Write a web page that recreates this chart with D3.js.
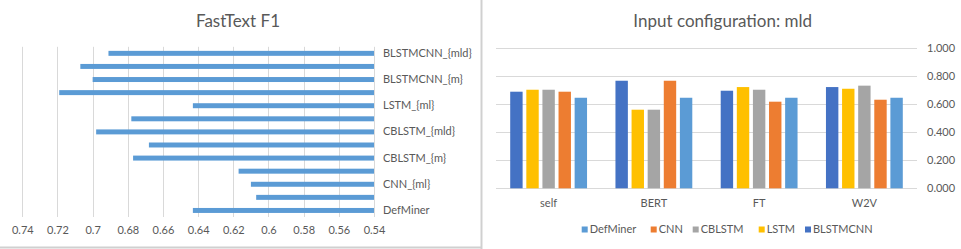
<!DOCTYPE html>
<html>
<head>
<meta charset="utf-8">
<script src="https://cdn.jsdelivr.net/npm/d3@7"></script>
<style>
  body { margin: 0; background: #fff; }
  svg { font-family: Lato, "Noto Sans", sans-serif; }
</style>
</head>
<body>
<svg id="canvas"></svg>
<script>
// left chart: FastText F1, bottom to top
let models = ["DefMiner", "CNN_{m}", "CNN_{ml}", "CNN_{mld}", "CBLSTM_{m}", "CBLSTM_{ml}", "CBLSTM_{mld}",
  "LSTM_{m}", "LSTM_{ml}", "LSTM_{mld}", "BLSTMCNN_{m}", "BLSTMCNN_{ml}", "BLSTMCNN_{mld}"]
let f1 = [0.643, 0.607, 0.610, 0.617, 0.677, 0.668, 0.698, 0.678, 0.643, 0.719, 0.700, 0.707, 0.691]
let f1Ticks = [0.74, 0.72, 0.7, 0.68, 0.66, 0.64, 0.62, 0.6, 0.58, 0.56, 0.54]

// right chart: input configuration mld
let inputs = ["self", "BERT", "FT", "W2V"]
let series = ["BLSTMCNN", "LSTM", "CBLSTM", "CNN", "DefMiner"]
let legendOrder = ["DefMiner", "CNN", "CBLSTM", "LSTM", "BLSTMCNN"]
let BLSTMCNN = [0.687, 0.765, 0.694, 0.720]
let LSTM = [0.701, 0.559, 0.720, 0.708]
let CBLSTM = [0.701, 0.559, 0.701, 0.730]
let CNN = [0.687, 0.765, 0.616, 0.630]
let DefMiner = [0.644, 0.644, 0.644, 0.644]
let yTicks = [0, 0.2, 0.4, 0.6, 0.8, 1.0]

let colors = {BLSTMCNN: "#4472C4", LSTM: "#FFC000", CBLSTM: "#A5A5A5", CNN: "#ED7D31", DefMiner: "#5B9BD5"}
let seriesValues = {BLSTMCNN, LSTM, CBLSTM, CNN, DefMiner}

let width = 961
let height = 249
let textColor = "#595959"
let gridColor = "#d9d9d9"

let svg = d3.select("#canvas")
svg.attr("width", width)
svg.attr("height", height)

// frames
svg.append("line")
  .attr("x1", 481.5).attr("x2", 481.5).attr("y1", 0).attr("y2", height)
  .attr("stroke", "#d0d0d0").attr("stroke-width", 2)
svg.append("line")
  .attr("x1", 0).attr("x2", 482).attr("y1", 247.5).attr("y2", 247.5)
  .attr("stroke", "#d0d0d0").attr("stroke-width", 2)

// ---------- left chart ----------
let xScale = d3.scaleLinear()
  .domain([0.74, 0.54])
  .range([22.3, 374])

let yBand = d3.scaleBand()
  .domain(models.slice().reverse())
  .range([46.8, 217])
  .paddingInner(0.62)
  .paddingOuter(0.31)

let left = svg.append("g")

left.selectAll(".grid")
  .data(f1Ticks)
  .enter()
  .append("line")
  .attr("class", "grid")
  .attr("x1", d => Math.round(xScale(d)) + 0.5)
  .attr("x2", d => Math.round(xScale(d)) + 0.5)
  .attr("y1", 46.8)
  .attr("y2", 217)
  .attr("stroke", gridColor)

left.selectAll(".bar")
  .data(models)
  .enter()
  .append("rect")
  .attr("class", "bar")
  .attr("x", (d, i) => xScale(f1[i]))
  .attr("y", d => yBand(d))
  .attr("width", (d, i) => xScale(0.54) - xScale(f1[i]))
  .attr("height", yBand.bandwidth())
  .attr("fill", "#5B9BD5")

let xAxis = d3.axisBottom(xScale)
  .tickValues(f1Ticks)
  .tickFormat(d => String(d))
  .tickSize(0)
  .tickPadding(9)

left.append("g")
  .attr("transform", "translate(0,217)")
  .call(xAxis)
  .call(g => g.select(".domain").remove())
  .selectAll("text")
  .attr("fill", textColor)
  .attr("font-size", 11)
  .attr("font-family", "Lato, sans-serif")

let yAxis = d3.axisRight(yBand)
  .tickValues(models.filter((d, i) => i % 2 == 0))
  .tickSize(0)
  .tickPadding(9)

left.append("g")
  .attr("transform", "translate(374,0)")
  .call(yAxis)
  .call(g => g.select(".domain").remove())
  .selectAll("text")
  .attr("fill", textColor)
  .attr("font-size", 11)
  .attr("font-family", "Lato, sans-serif")

left.append("text")
  .attr("x", 238)
  .attr("y", 27)
  .attr("text-anchor", "middle")
  .attr("fill", textColor)
  .attr("font-size", 17)
  .text("FastText F1")

// ---------- right chart ----------
let x0 = d3.scaleBand()
  .domain(inputs)
  .range([496, 917])
  .paddingInner(0.27)
  .paddingOuter(0.135)

let x1 = d3.scaleBand()
  .domain(series)
  .range([0, x0.bandwidth()])
  .paddingInner(0.23)

let y = d3.scaleLinear()
  .domain([0, 1])
  .range([188.3, 47.7])

let right = svg.append("g")

right.selectAll(".ygrid")
  .data(yTicks)
  .enter()
  .append("line")
  .attr("class", "ygrid")
  .attr("x1", 496)
  .attr("x2", 917)
  .attr("y1", d => Math.round(y(d)) + 0.5)
  .attr("y2", d => Math.round(y(d)) + 0.5)
  .attr("stroke", gridColor)

let groups = right.selectAll(".group")
  .data(inputs)
  .enter()
  .append("g")
  .attr("class", "group")
  .attr("transform", d => "translate(" + x0(d) + ",0)")

groups.selectAll("rect")
  .data((d, i) => series.map(s => ({s: s, v: seriesValues[s][i]})))
  .enter()
  .append("rect")
  .attr("x", d => x1(d.s))
  .attr("y", d => y(d.v))
  .attr("width", x1.bandwidth())
  .attr("height", d => y(0) - y(d.v))
  .attr("fill", d => colors[d.s])

right.append("g")
  .attr("transform", "translate(0,188.3)")
  .call(d3.axisBottom(x0).tickSize(0).tickPadding(11))
  .call(g => g.select(".domain").remove())
  .selectAll("text")
  .attr("fill", textColor)
  .attr("font-size", 11)
  .attr("font-family", "Lato, sans-serif")

right.append("g")
  .attr("transform", "translate(917,0)")
  .call(d3.axisRight(y).tickValues(yTicks).tickFormat(d3.format(".3f")).tickSize(0).tickPadding(10))
  .call(g => g.select(".domain").remove())
  .selectAll("text")
  .attr("fill", textColor)
  .attr("font-size", 11)
  .attr("font-family", "Lato, sans-serif")

right.append("text")
  .attr("x", 722.7)
  .attr("y", 27)
  .attr("text-anchor", "middle")
  .attr("fill", textColor)
  .attr("font-size", 17)
  .text("Input configuration: mld")

// legend
let legendX = [581.7, 650.7, 692.7, 758.7, 805]
let legend = right.selectAll(".legend")
  .data(legendOrder)
  .enter()
  .append("g")
  .attr("class", "legend")
  .attr("transform", (d, i) => "translate(" + legendX[i] + ",229.5)")

legend.append("rect")
  .attr("x", 0)
  .attr("y", -3)
  .attr("width", 6)
  .attr("height", 6)
  .attr("fill", d => colors[d])

legend.append("text")
  .attr("x", 8)
  .attr("y", 0)
  .attr("dy", "0.35em")
  .attr("fill", textColor)
  .attr("font-size", 11)
  .text(d => d)
</script>
</body>
</html>
